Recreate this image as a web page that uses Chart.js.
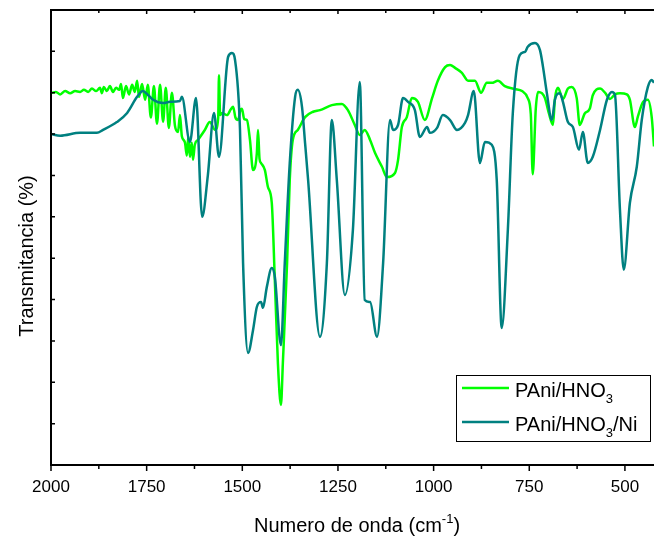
<!DOCTYPE html>
<html>
<head>
<meta charset="utf-8">
<script src="https://cdn.jsdelivr.net/npm/chart.js@4"></script>
<style>
  body { margin: 0; background: #fff; }
</style>
</head>
<body>
<canvas id="myChart" width="654" height="539"></canvas>
<script>
// tick labels on the wavenumber axis (cm-1), minor ticks in between
const xTickLabels = [2000, 1750, 1500, 1250, 1000, 750, 500];
const xMinorTicks = [1875, 1625, 1375, 1125, 875, 625];
const yTicks = [10, 20, 30, 40, 50, 60, 70, 80, 90, 100];

// PAni/HNO3
const waveHNO3 = [2000, 1987, 1976, 1963, 1950, 1937, 1924, 1914, 1903, 1893, 1882, 1872, 1867, 1862, 1854, 1846,
  1838, 1830, 1822, 1817, 1812, 1804, 1796, 1788, 1781, 1775, 1770, 1762, 1754, 1747, 1739, 1731, 1723, 1715,
  1707, 1700, 1692, 1684, 1676, 1668, 1663, 1658, 1650, 1645, 1641, 1637, 1632, 1629, 1624, 1616, 1598, 1585,
  1571, 1563, 1561, 1558, 1553, 1540, 1530, 1524, 1518, 1511, 1505, 1501, 1495, 1488, 1480, 1472, 1462, 1459,
  1455, 1451, 1441, 1433, 1423, 1415, 1407, 1399, 1394, 1383, 1376, 1368, 1355, 1336, 1315, 1297, 1266, 1240,
  1224, 1206, 1193, 1180, 1166, 1153, 1135, 1122, 1101, 1093, 1083, 1070, 1057, 1041, 1023, 1004, 989, 970,
  957, 944, 926, 910, 892, 876, 861, 848, 832, 814, 788, 769, 754, 746, 741, 733, 727, 717, 709, 699, 688,
  683, 675, 662, 649, 639, 626, 618, 605, 592, 584, 565, 552, 539, 526, 513, 495, 487, 474, 466, 453, 440,
  430, 424];
const transHNO3 = [89.9, 90.2, 89.6, 90.4, 89.9, 90.4, 90.2, 90.7, 90.2, 91.0, 90.4, 91.2, 89.9, 91.4, 90.4, 91.6,
  90.2, 91.2, 90.7, 92.1, 88.7, 91.6, 89.6, 91.9, 90.2, 92.9, 89.0, 92.1, 88.3, 91.9, 84.0, 91.6, 82.5, 91.9,
  83.0, 91.2, 81.5, 90.0, 82.0, 80.5, 84.6, 79.5, 78.0, 74.8, 79.5, 74.5, 77.9, 73.8, 77.5, 78.6, 81.0, 82.9,
  81.0, 84.0, 94.2, 84.6, 85.1, 84.6, 86.0, 86.6, 84.0, 83.4, 85.8, 86.1, 83.6, 83.4, 78.6, 71.3, 75.4, 81.0,
  74.0, 73.0, 71.3, 67.2, 63.4, 44.7, 24.7, 14.5, 24.7, 48.8, 68.9, 78.6, 81.0, 84.1, 85.4, 85.8, 87.0, 87.3,
  85.8, 82.2, 79.8, 81.0, 78.6, 75.4, 72.1, 69.6, 70.6, 73.7, 81.7, 84.1, 88.7, 87.8, 83.4, 88.7, 92.9, 96.2,
  96.7, 96.0, 94.8, 92.9, 92.9, 90.0, 92.4, 92.4, 92.9, 91.6, 90.9, 90.4, 88.7, 84.8, 70.3, 86.1, 90.2, 89.9,
  88.7, 85.1, 82.2, 88.5, 91.2, 88.5, 91.0, 91.4, 88.7, 82.2, 85.0, 86.1, 89.4, 91.0, 90.0, 88.5, 89.6, 89.9,
  89.6, 88.3, 81.7, 84.3, 87.7, 88.3, 84.1, 77.0];

// PAni/HNO3/Ni
const waveNi = [2000, 1976, 1924, 1880, 1864, 1828, 1801, 1775, 1760, 1747, 1733, 1707, 1689, 1663, 1658, 1637,
  1621, 1605, 1590, 1574, 1561, 1537, 1527, 1519, 1506, 1498, 1485, 1472, 1462, 1451, 1446, 1436, 1423, 1415,
  1399, 1389, 1376, 1362, 1355, 1344, 1336, 1328, 1297, 1279, 1266, 1253, 1232, 1211, 1193, 1180, 1166, 1148,
  1132, 1114, 1106, 1093, 1080, 1067, 1049, 1036, 1017, 1010, 991, 976, 957, 939, 918, 910, 895, 879, 866, 848,
  835, 822, 806, 793, 775, 761, 754, 735, 722, 714, 704, 691, 683, 670, 662, 649, 636, 620, 610, 597, 584, 565,
  547, 534, 526, 513, 503, 487, 469, 456, 440, 430, 424];
const transNi = [80.0, 79.6, 80.3, 80.3, 81.0, 82.9, 85.1, 89.0, 90.4, 89.5, 88.3, 87.5, 87.8, 88.0, 89.0, 78.1,
  88.7, 60.0, 70.1, 85.1, 74.5, 98.7, 99.6, 97.9, 81.0, 48.8, 27.1, 32.6, 38.2, 39.4, 38.0, 43.0, 47.6, 45.5,
  29.0, 48.8, 73.0, 89.0, 90.7, 86.6, 77.9, 68.9, 31.0, 48.8, 83.4, 68.9, 41.1, 56.8, 92.6, 39.9, 39.4, 31.0,
  48.8, 83.4, 81.0, 82.2, 88.7, 87.8, 85.8, 79.3, 81.7, 80.3, 81.5, 84.6, 83.4, 81.0, 82.7, 84.6, 90.4, 73.0, 78.1, 77.4,
  68.9, 33.1, 56.8, 85.1, 99.1, 99.9, 101.1, 102.0, 100.3, 96.2, 89.9, 83.4, 88.3, 89.9, 87.8, 82.9, 81.7, 76.2, 80.5, 73.0, 74.5, 81.0,
  88.3, 90.2, 89.5, 61.7, 47.2, 63.4, 72.1, 83.4, 91.4, 93.1, 92.4];

const FONT = "'Liberation Sans', Arial, sans-serif";

const legendParts = [
  [{ t: 'PAni/HNO' }, { t: '3', sub: true }],
  [{ t: 'PAni/HNO' }, { t: '3', sub: true }, { t: '/Ni' }],
];

function drawRich(ctx, parts, x, y, size) {
  parts.forEach(p => {
    const s = p.sub || p.sup ? Math.round(size * 0.65) : size;
    ctx.font = s + 'px ' + FONT;
    const dy = p.sub ? size * 0.3 : p.sup ? -size * 0.45 : 0;
    ctx.fillText(p.t, x, y + dy);
    x += ctx.measureText(p.t).width;
  });
}
function richWidth(ctx, parts, size) {
  let w = 0;
  parts.forEach(p => {
    ctx.font = (p.sub || p.sup ? Math.round(size * 0.65) : size) + 'px ' + FONT;
    w += ctx.measureText(p.t).width;
  });
  return w;
}

const frame = {
  id: 'frame',
  afterDraw(chart) {
    const { ctx, chartArea: a, scales: { x, y } } = chart;
    ctx.save();
    ctx.strokeStyle = '#000';
    ctx.lineWidth = 2;
    ctx.beginPath();
    ctx.moveTo(a.right + 2, a.top);
    ctx.lineTo(a.left, a.top);
    ctx.lineTo(a.left, a.bottom);
    ctx.lineTo(a.right + 2, a.bottom);
    ctx.stroke();

    ctx.lineWidth = 1.5;
    ctx.beginPath();
    xTickLabels.forEach(v => {
      const px = x.getPixelForValue(v);
      ctx.moveTo(px, a.bottom); ctx.lineTo(px, a.bottom + 6);
      ctx.moveTo(px, a.top); ctx.lineTo(px, a.top + 4);
    });
    xMinorTicks.forEach(v => {
      const px = x.getPixelForValue(v);
      ctx.moveTo(px, a.bottom); ctx.lineTo(px, a.bottom + 4);
      ctx.moveTo(px, a.top); ctx.lineTo(px, a.top + 3);
    });
    yTicks.forEach(v => {
      const py = y.getPixelForValue(v);
      ctx.moveTo(a.left, py); ctx.lineTo(a.left + 4, py);
    });
    ctx.stroke();

    // axis titles
    ctx.fillStyle = '#000';
    ctx.textBaseline = 'alphabetic';
    const xt = [{ t: 'Numero de onda (cm' }, { t: '-1', sup: true }, { t: ')' }];
    const w = richWidth(ctx, xt, 20);
    drawRich(ctx, xt, a.left + 306 - w / 2, 532, 20);

    ctx.save();
    ctx.translate(33, 256);
    ctx.rotate(-Math.PI / 2);
    ctx.font = '20px ' + FONT;
    ctx.textAlign = 'center';
    ctx.fillText('Transmitancia (%)', 0, 0);
    ctx.restore();

    // legend
    ctx.lineWidth = 1;
    ctx.strokeRect(456.5, 375.5, 194, 66);
    chart.data.datasets.forEach((ds, i) => {
      const ly = 388 + i * 34;
      ctx.strokeStyle = ds.borderColor;
      ctx.lineWidth = 2.5;
      ctx.beginPath();
      ctx.moveTo(462, ly); ctx.lineTo(509, ly);
      ctx.stroke();
      ctx.fillStyle = '#000';
      drawRich(ctx, legendParts[i], 515, ly + 9, 20);
    });
    ctx.restore();
  }
};

const ctx = document.getElementById('myChart');

const myChart = new Chart(ctx, {
  type: 'line',
  data: {
    datasets: [
      {
        label: 'PAni/HNO₃',
        data: waveHNO3.map((w, i) => ({ x: w, y: transHNO3[i] })),
        borderColor: '#00ff00',
        order: 1,
      },
      {
        label: 'PAni/HNO₃/Ni',
        data: waveNi.map((w, i) => ({ x: w, y: transNi[i] })),
        borderColor: '#008080',
        order: 0,
      },
    ],
  },
  options: {
    responsive: false,
    animation: false,
    layout: { padding: { top: 10, right: 0, left: 0, bottom: 0 } },
    elements: {
      point: { radius: 0 },
      line: { borderWidth: 2.5, cubicInterpolationMode: 'monotone' },
    },
    plugins: { legend: { display: false }, tooltip: { enabled: false } },
    scales: {
      x: {
        type: 'linear',
        reverse: true,
        min: 424,
        max: 2000,
        afterBuildTicks: s => { s.ticks = xTickLabels.map(v => ({ value: v })); },
        afterFit: s => { s.height = 74; },
        grid: { display: false, drawTicks: false },
        border: { display: false },
        ticks: {
          padding: 12,
          maxRotation: 0,
          color: '#000',
          font: { family: FONT, size: 17 },
          callback: v => String(v),
        },
      },
      y: {
        min: 0,
        max: 110,
        afterFit: s => { s.width = 51; },
        grid: { display: false },
        border: { display: false },
        ticks: { display: false },
      },
    },
  },
  plugins: [frame],
});
</script>
</body>
</html>
